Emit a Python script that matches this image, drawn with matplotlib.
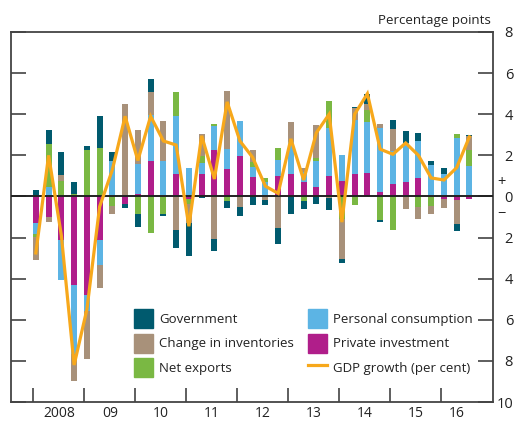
import matplotlib.pyplot as plt
import matplotlib.transforms as mtransforms
from matplotlib.patches import Patch
from matplotlib.lines import Line2D
import numpy as np

plt.rcParams['font.family'] = ['Open Sans', 'DejaVu Sans']

# Quarterly contributions to GDP growth, 2008 Q1 - 2016 Q3 (percentage points)
government = [0.31, 0.65, 1.16, 0.59, 0.20, 1.55, 0.46, -0.20, -0.62, 0.64, -0.10, -0.88,
              -1.63, -0.07, -0.54, -0.34, -0.44, -0.42, -0.26, -0.78, -0.87, -0.39, -0.38, -0.55,
              -0.18, 0.05, 0.47, -0.10, 0.47, 0.59, 0.39, 0.20, 0.29, -0.33, 0.08]
inventories = [-1.11, -0.26, 0.25, -1.31, -2.37, -1.13, -0.41, 4.48, 1.67, 1.08, 1.96, -1.65,
               -0.92, 1.10, -2.09, 2.83, -0.52, 0.59, -0.16, -1.55, 1.00, 0.20, 1.63, -0.10,
               -1.95, 0.62, 0.29, 0.23, 1.03, -0.62, -0.60, -0.39, -0.44, -1.19, 0.65]
net_exports = [-0.11, 2.09, 0.77, 0.11, 2.27, 2.34, -0.46, 0.00, -0.87, -1.80, -0.87, 1.14,
               -0.25, 0.31, 0.07, -0.23, 0.00, 0.25, 0.20, 0.59, 0.00, -0.23, 0.13, 1.31,
               -1.11, -0.41, 0.56, -1.16, -1.65, 0.00, -0.51, -0.47, 0.00, 0.20, 0.78]
consumption = [-0.54, 0.47, -1.94, -3.35, -0.77, -1.18, 1.70, 0.00, 1.47, 2.25, 1.73, 2.83,
               1.39, 0.56, 1.19, 0.95, 1.67, 0.49, 0.70, 0.78, 1.55, 0.50, 1.27, 2.32,
               1.27, 2.61, 2.48, 3.10, 1.63, 1.91, 1.81, 1.54, 1.09, 2.86, 1.49]
investment = [-1.31, -1.00, -2.14, -4.30, -4.79, -2.14, 0.00, -0.38, 0.11, 1.73, 0.00, 1.09,
              -0.11, 1.09, 2.24, 1.34, 1.98, 0.95, 0.00, 1.00, 1.09, 0.70, 0.46, 1.00,
              0.75, 1.09, 1.16, 0.21, 0.60, 0.70, 0.90, 0.00, -0.13, -0.16, -0.11]
gdp_growth = [-2.75, 2.0, -1.9, -8.2, -5.5, -0.5, 1.3, 3.9, 1.75, 3.9, 2.7, 2.5,
              -1.45, 2.95, 0.85, 4.6, 2.7, 1.9, 0.5, 0.15, 2.8, 0.8, 3.1, 4.0,
              -1.25, 4.0, 5.0, 2.3, 2.05, 2.6, 2.0, 0.9, 0.8, 1.4, 2.9]
year_labels = ['2008', '09', '10', '11', '12', '13', '14', '15', '16']

colors = {
    'Government': '#005A6E',
    'Change in inventories': '#A8917A',
    'Net exports': '#7AB843',
    'Personal consumption': '#5CB4E4',
    'Private investment': '#B01E8A',
}
gdp_color = '#F7A81B'

# stacking order outwards from zero
series = [
    ('Private investment', investment),
    ('Personal consumption', consumption),
    ('Net exports', net_exports),
    ('Change in inventories', inventories),
    ('Government', government),
]

fig = plt.figure(figsize=(5.15, 4.21), dpi=100)
ax = fig.add_axes([11 / 515, 19 / 421, 482 / 515, 370 / 421])

x = np.arange(len(gdp_growth)) + 0.2
pos_base = np.zeros(len(x))
neg_base = np.zeros(len(x))
for name, vals in series:
    v = np.array(vals)
    bottom = np.where(v >= 0, pos_base, neg_base)
    ax.bar(x, v, bottom=bottom, width=0.47, color=colors[name], linewidth=0, zorder=2)
    pos_base += np.where(v >= 0, v, 0)
    neg_base += np.where(v < 0, v, 0)

ax.axhline(0, color='#222222', lw=1.4, zorder=3)
ax.plot(x, gdp_growth, color=gdp_color, lw=2.3, zorder=4, solid_joinstyle='miter')

ax.set_xlim(-1.75, 36.05)
ax.set_ylim(-10, 8)

# axes styling
for sp in ax.spines.values():
    sp.set_color('#444444')
    sp.set_linewidth(1.3)

yt = np.arange(-10, 9, 2)
ax.set_yticks(yt)
ax.set_yticklabels([str(abs(v)) for v in yt])
ax.tick_params(axis='y', direction='in', length=10.8, width=1.1, color='#333333',
               left=True, right=True, labelleft=False, labelright=True,
               labelsize=10.5, pad=14.4, labelcolor='#222222')
for t in ax.yaxis.get_major_ticks():
    t.label2.set_horizontalalignment('right')

ax.set_xticks(np.arange(0, 33, 4))
ax.set_xticks(list(np.arange(2, 31, 4)) + [33.2], minor=True)
ax.set_xticklabels(year_labels, minor=True)
ax.tick_params(axis='x', which='major', direction='in', length=10, width=1.1,
               color='#333333', labelbottom=False)
ax.tick_params(axis='x', which='minor', length=0, labelsize=10, pad=3.2,
               labelcolor='#222222')

trans = mtransforms.blended_transform_factory(ax.transAxes, ax.transData)
ax.text(1.018, 0.68, '+', transform=trans, ha='center', va='center', fontsize=10.5,
        color='#222222')
ax.text(1.018, -0.88, '\u2212', transform=trans, ha='center', va='center', fontsize=10.5,
        color='#222222')
fig.text(491 / 515, 1 - 20.5 / 421, 'Percentage points', ha='right', va='center',
         fontsize=9.6, color='#222222')

handles = [Patch(color=colors['Government'], label='Government'),
           Patch(color=colors['Change in inventories'], label='Change in inventories'),
           Patch(color=colors['Net exports'], label='Net exports'),
           Patch(color=colors['Personal consumption'], label='Personal consumption'),
           Patch(color=colors['Private investment'], label='Private investment'),
           Line2D([], [], color=gdp_color, lw=2.3, label='GDP growth (per cent)')]
ax.legend(handles=handles, ncol=2, loc='upper left', frameon=False,
          bbox_to_anchor=(134 / 515, 1 - 309 / 421), bbox_transform=fig.transFigure,
          fontsize=9.5, handlelength=1.44, handleheight=1.84, handletextpad=0.45,
          labelspacing=0.42, columnspacing=1.06, borderpad=0, borderaxespad=0,
          labelcolor='#222222')

fig.savefig('out.png', dpi=100)
